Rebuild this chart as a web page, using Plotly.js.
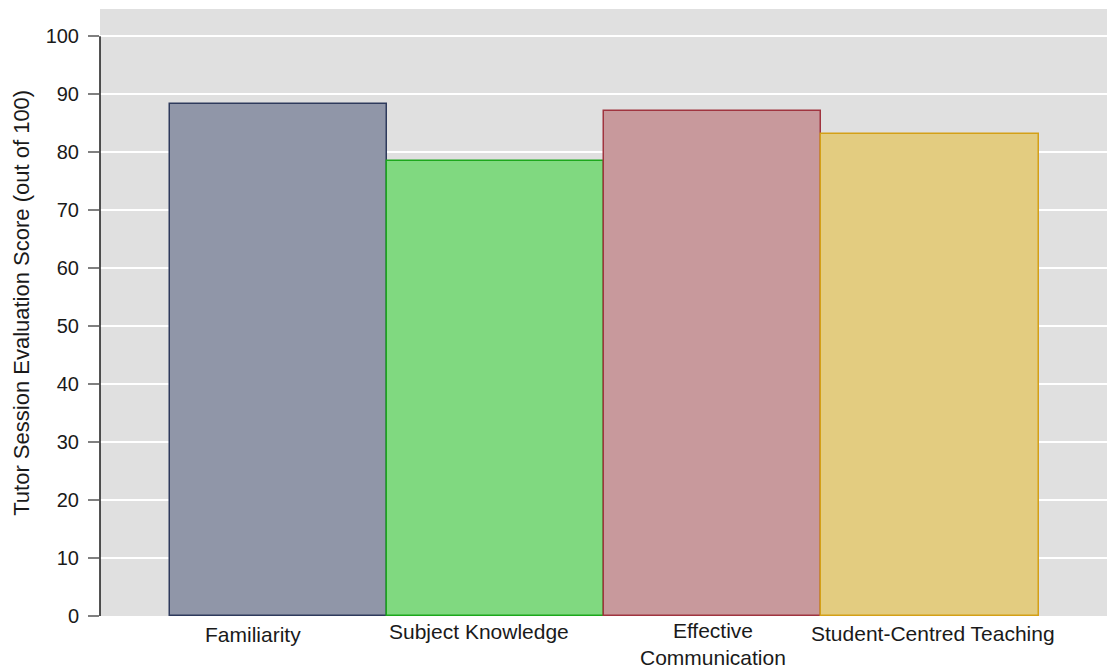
<!DOCTYPE html>
<html>
<head>
<meta charset="utf-8">
<script src="https://cdn.plot.ly/plotly-3.0.1.min.js"></script>
<style>html,body{margin:0;padding:0;background:#fff;}#chart{width:1112px;height:668px;}</style>
</head>
<body>
<div id="chart"></div>
<script>
const categories = ["Familiarity", "Subject Knowledge", "Effective<br>Communication", "Student-Centred Teaching"];
const scores = [88.4, 78.5, 87.1, 83.2];
const fillColors = ["#9096a8", "#80d980", "#c8999c", "#e3cc80"];
const lineColors = ["#2e3a5c", "#1ca81c", "#a0343f", "#d4a017"];
const yTicks = [0, 10, 20, 30, 40, 50, 60, 70, 80, 90, 100];
const yTitle = "Tutor Session Evaluation Score (out of 100)";
// label placement nudges (pixels), as in the reference
const labelShiftX = [-25, -16, 0, 3];
const labelShiftY = [-3, 0, 1, -2];

const trace = {
  type: "bar",
  x: categories,
  y: scores,
  width: 1,
  marker: {color: fillColors, line: {color: lineColors, width: 1.5}},
  hoverinfo: "x+y"
};

const annotations = categories.map((c, i) => ({
  xref: "x", yref: "paper", x: c, y: 0,
  xanchor: "center", yanchor: "top",
  xshift: labelShiftX[i], yshift: -3 + labelShiftY[i],
  borderpad: 0,
  text: c, showarrow: false,
  font: {size: 21, color: "#1a1a1a"}
}));
annotations.push({
  xref: "paper", yref: "paper", x: 0, y: 0.516,
  xanchor: "center", yanchor: "middle", xshift: -78,
  textangle: -90, text: yTitle, showarrow: false,
  font: {size: 22, color: "#1a1a1a"}
});

const layout = {
  width: 1112, height: 668,
  margin: {l: 100, r: 5, t: 9, b: 52},
  paper_bgcolor: "#ffffff",
  plot_bgcolor: "#e0e0e0",
  font: {family: "Liberation Sans, Arial, sans-serif", size: 20, color: "#1a1a1a"},
  showlegend: false,
  bargap: 0,
  xaxis: {
    type: "category",
    range: [-0.82, 3.815],
    showgrid: false, zeroline: false, showline: false,
    ticks: "", showticklabels: false
  },
  yaxis: {
    range: [0, 104.7],
    tickvals: yTicks,
    ticks: "outside", ticklen: 11, tickcolor: "#808080", tickwidth: 2,
    ticklabelstandoff: 5,
    showgrid: true, gridcolor: "#ffffff", gridwidth: 1.5,
    zeroline: false, showline: false,
    tickfont: {size: 20}
  },
  annotations: annotations,
  shapes: [{
    type: "line", xref: "paper", yref: "y",
    x0: 0, x1: 0, y0: 0, y1: 100,
    line: {color: "#1a1a1a", width: 1.5}
  }]
};

Plotly.newPlot("chart", [trace], layout, {displayModeBar: false});
</script>
</body>
</html>
